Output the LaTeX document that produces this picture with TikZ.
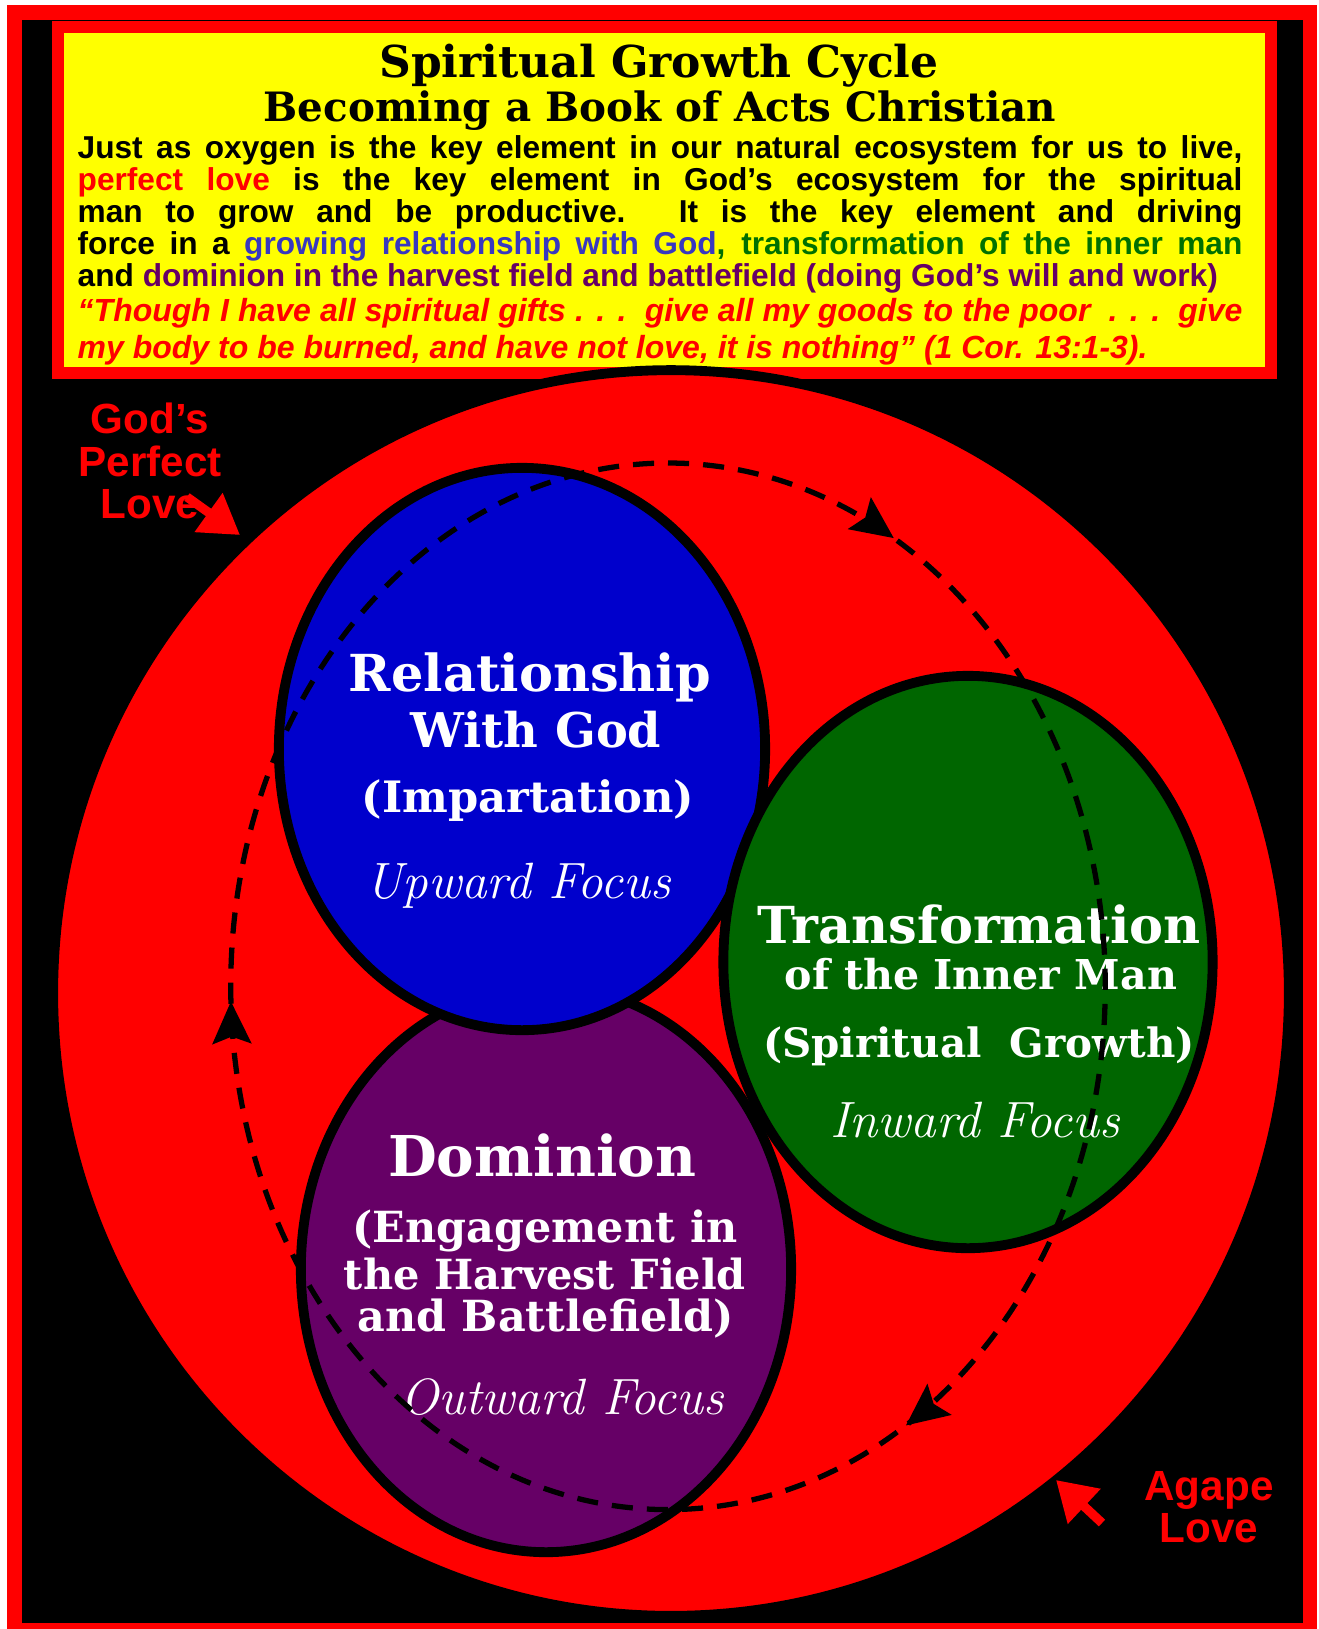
\documentclass[tikz,border=0pt]{standalone}
\usepackage{fontspec}
\newfontfamily\sansbold{Liberation Sans}
\newfontfamily\slabfont{DejaVu Serif}
\usetikzlibrary{positioning,calc}
\usetikzlibrary{shapes.geometric}
\usetikzlibrary{arrows.meta}
\usetikzlibrary{decorations.markings}

\definecolor{loveRed}{HTML}{FF0000}
\definecolor{sunYellow}{HTML}{FFFF00}
\definecolor{godBlue}{HTML}{0000CC}
\definecolor{textBlue}{HTML}{3838C0}
\definecolor{growGreen}{HTML}{006600}
\definecolor{textGreen}{HTML}{007000}
\definecolor{harvestPurple}{HTML}{660066}

\begin{document}
\begin{tikzpicture}[x=0.01cm,y=-0.01cm,
         bubble/.style = {ellipse,draw=black,line width=2.8pt,inner sep=0pt},
         headline/.style = {text=white,inner sep=0pt,
            font=\slabfont\bfseries\fontsize{#1}{#1}\selectfont},
         headline/.default = 14.5,
         focus/.style = {text=white,inner sep=0pt,
            font=\rmfamily\itshape\fontsize{#1}{#1}\selectfont},
         focus/.default = 14.5,
         tag/.style = {text=loveRed,align=center,inner sep=0pt,
            font=\sansbold\bfseries\fontsize{12}{12}\selectfont},
         lovearrow/.style = {loveRed,line width=2.6pt,
            -{Triangle[length=11pt,width=13pt]}},
         cyclepath/.style = {black,line width=1.5pt,dash pattern=on 6pt off 4pt,
            postaction={decorate}, decoration={markings,
            mark=at position 0.08 with {\arrow{Stealth[length=12pt,width=11pt,inset=2pt]}},
            mark=at position 0.415 with {\arrow{Stealth[length=12pt,width=11pt,inset=2pt]}},
            mark=at position 0.745 with {\arrow{Stealth[length=12pt,width=11pt,inset=2pt]}}}}
]
      \useasboundingbox (0,0) rectangle (1319,1629);
      \fill[white] (0,0) rectangle (1319,1629);
      \fill[loveRed] (7,5) rectangle (1317,1629);
      \fill[black] (22,20) rectangle (1303,1623);

      % header box
      \draw[fill=sunYellow,draw=loveRed,line width=3.4pt] (58,27) rectangle (1271,373);
      \node[anchor=base,inner sep=0pt,font=\slabfont\bfseries\fontsize{12.5}{12.5}\selectfont]
         (title) at (659,77) {Spiritual Growth Cycle};
      \node[anchor=base,inner sep=0pt,font=\slabfont\bfseries\fontsize{11.5}{11.5}\selectfont]
         (subtitle) at (660,121) {Becoming a Book of Acts Christian};
      \node[anchor=north west,inner sep=0pt,text width=11.64cm,align=justify,
         font=\sansbold\bfseries\fontsize{9}{9.1}\selectfont] (intro) at (77,135)
         {\parfillskip=0pt
         Just as oxygen is the key element in our natural ecosystem for us to live,\linebreak
         \textcolor{loveRed}{perfect love} is the key element in God’s ecosystem for the spiritual\linebreak
         man to grow and be productive. It is the key element and driving\linebreak
         force in a \textcolor{textBlue}{growing relationship with God}\textcolor{textGreen}{, transformation of the inner man}\linebreak
         and \textcolor{harvestPurple}{dominion in the harvest field and battlefield (doing God’s will and work)}};
      \node[anchor=north west,inner sep=0pt,text width=11.64cm,align=justify,text=loveRed,
         font=\sansbold\bfseries\itshape\fontsize{9.1}{10.3}\selectfont] (quote) at (77,298)
         {“Though I have all spiritual gifts . . .\ \ give all my goods to the poor\ \ . . .\ \ give\linebreak
         my body to be burned, and have not love, it is nothing” (1 Cor. 13:1-3).};

      % love circle and the three areas
      \node[bubble,fill=loveRed,minimum width=12.35cm,minimum height=12.45cm] (agape) at (671,993) {};
      \node[bubble,fill=harvestPurple,minimum width=4.9cm,minimum height=5.66cm] (dominion) at (546,1269) {};
      \node[bubble,fill=godBlue,minimum width=4.86cm,minimum height=5.62cm] (relation) at (522,749) {};
      \node[bubble,fill=growGreen,minimum width=4.89cm,minimum height=5.72cm] (transform) at (968,962) {};

      \node[headline] (rel1) at (530,677) {Relationship};
      \node[headline=13.6] (rel2) at (536,730) {With God};
      \node[headline=12.3] (rel3) at (528,801) {(Impartation)};
      \node[focus] (relfocus) at (518,886) {Upward Focus};

      \node[headline] (tra1) at (979,924) {Transformation};
      \node[headline=11.7] (tra2) at (981,974) {of the Inner Man};
      \node[headline=11.5] (tra3) at (979,1046) {(Spiritual\ \ Growth)};
      \node[focus] (trafocus) at (975,1120) {Inward Focus};

      \node[headline=16] (dom1) at (542,1156) {Dominion};
      \node[headline=12.2] (dom2) at (545,1231) {(Engagement in};
      \node[headline=11.8] (dom3) at (545,1274) {the Harvest Field};
      \node[headline=12.2] (dom4) at (546,1319) {and Battlefield)};
      \node[focus] (domfocus) at (562,1397) {Outward Focus};

      % growth cycle
      \coordinate (cyctop) at (668,463);
      \draw[cyclepath] (cyctop) arc[start angle=90,end angle=-270,x radius=4.37cm,y radius=5.23cm];

      % side labels
      \node[tag] (gpl) at (150,461) {God’s\\Perfect\\Love};
      \coordinate (gpltail) at (187,497);
      \coordinate (gplhead) at (240,535);
      \draw[lovearrow] (gpltail) -- (gplhead);

      \node[tag] (agapelabel) at (1209,1507) {Agape\\Love};
      \coordinate (agtail) at (1102,1523);
      \coordinate (aghead) at (1056,1480);
      \draw[lovearrow] (agtail) -- (aghead);
\end{tikzpicture}
\end{document}
